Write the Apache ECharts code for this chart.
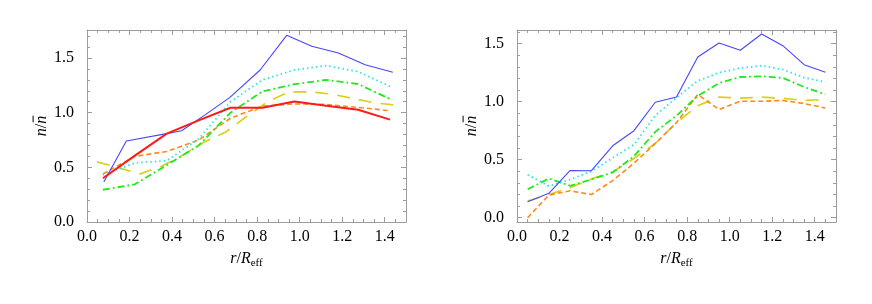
<!DOCTYPE html>
<html><head><meta charset="utf-8">
<script src="https://cdn.jsdelivr.net/npm/echarts@6/dist/echarts.min.js"></script>
<style>html,body{margin:0;padding:0;background:#fff}#c{width:872px;height:304px}</style>
</head><body><div id="c"></div>
<script>
// ---------- left panel data ----------
const leftBlueX   = [0.079,0.185,0.374,0.445,0.555,0.672,0.814,0.939,1.057,1.182,1.308,1.438];
const leftBlueY   = [0.366,0.741,0.808,0.835,0.980,1.140,1.390,1.707,1.607,1.546,1.439,1.369];
const leftGrid15X = [0.075,0.225,0.375,0.525,0.675,0.825,0.975,1.125,1.275,1.425];
const leftRedY    = [0.400,0.607,0.808,0.930,1.045,1.045,1.103,1.064,1.027,0.936];
const leftCyanY   = [0.430,0.540,0.560,0.760,1.100,1.300,1.390,1.430,1.375,1.240];
const leftGreenY  = [0.295,0.345,0.520,0.700,1.000,1.195,1.260,1.300,1.262,1.125];
const leftOrangeY = [0.440,0.600,0.645,0.750,0.950,1.060,1.080,1.075,1.048,1.018];
const leftYellowX = [0.047,0.15,0.25,0.35,0.45,0.55,0.65,0.75,0.85,0.95,1.05,1.15,1.25,1.35,1.455];
const leftYellowY = [0.550,0.495,0.440,0.510,0.610,0.730,0.820,0.965,1.100,1.190,1.190,1.170,1.130,1.090,1.068];

// ---------- right panel data ----------
const rightX       = [0.05,0.15,0.25,0.35,0.45,0.55,0.65,0.75,0.85,0.95,1.05,1.15,1.25,1.35,1.45];
const rightBlueY   = [0.137,0.210,0.407,0.405,0.620,0.750,0.995,1.040,1.385,1.506,1.443,1.583,1.483,1.319,1.253];
const rightCyanY   = [0.370,0.272,0.330,0.400,0.516,0.630,0.880,1.035,1.180,1.250,1.290,1.310,1.278,1.207,1.170];
const rightGreenY  = [0.245,0.338,0.275,0.330,0.390,0.530,0.740,0.880,1.050,1.160,1.213,1.219,1.205,1.127,1.062];
const rightOrangeY = [0.000,0.195,0.232,0.200,0.320,0.470,0.640,0.820,1.062,0.933,1.004,1.004,1.010,0.984,0.946];
const rightYellowY = [0.143,0.200,0.258,0.335,0.395,0.510,0.640,0.820,0.965,1.040,1.030,1.040,1.030,1.010,1.020];

// ---------- tick labels ----------
const xTickLabels = [0,0.2,0.4,0.6,0.8,1.0,1.2,1.4];
const yTickLabels = [0,0.5,1.0,1.5];

const xMinorTicks = [];
for (let i = 1; i <= 30; i++) { const v = +(i*0.05).toFixed(2); if (!xTickLabels.some(m => Math.abs(m - v) < 1e-6)) xMinorTicks.push(v); }
function yMinor(maxV) { const a = []; for (let i = 1; i*0.1 <= maxV + 1e-9; i++) { const v = +(i*0.1).toFixed(1); if (!yTickLabels.some(m => Math.abs(m - v) < 1e-6)) a.push(v); } return a; }

const FONT = 'Liberation Serif';
const FRAME = '#9c9c9c';
const panels = [
  {left: 87, yMin: 0, yMax: 1.756},
  {left: 517, yMin: -0.037, yMax: 1.618}
];

const grids = [], xAxes = [], yAxes = [], series = [];
const mainX = [], mainY = [];
panels.forEach((p, g) => {
  grids.push({left: p.left, top: 30, width: 319, height: 192, containLabel: false});
  const xb = {type: 'value', gridIndex: g, min: 0, max: 1.5, splitLine: {show: false}};
  mainX.push(xAxes.length);
  xAxes.push(Object.assign({}, xb, {position: 'bottom',
    axisLine: {show: true, onZero: false, lineStyle: {color: FRAME, width: 1}},
    axisTick: {show: true, inside: true, length: 5, customValues: xTickLabels, lineStyle: {color: FRAME}},
    axisLabel: {show: true, customValues: xTickLabels, formatter: v => v.toFixed(1), color: '#000', fontFamily: FONT, fontSize: 16, margin: 7},
    name: '{i|r}{n|/}{i|R}{s|eff}', nameLocation: 'middle', nameGap: 27,
    nameTextStyle: {color: '#000', rich: {
      i: {fontFamily: FONT, fontStyle: 'italic', fontSize: 16, color: '#000'},
      n: {fontFamily: FONT, fontSize: 16, color: '#000'},
      s: {fontFamily: FONT, fontSize: 11, color: '#000', padding: [9, 0, 0, 0]}
    }}
  }));
  xAxes.push(Object.assign({}, xb, {position: 'bottom', axisLine: {show: false, onZero: false},
    axisTick: {show: true, inside: true, length: 3, customValues: xMinorTicks, lineStyle: {color: FRAME}},
    axisLabel: {show: false}}));
  xAxes.push(Object.assign({}, xb, {position: 'top',
    axisLine: {show: true, onZero: false, lineStyle: {color: FRAME, width: 1}},
    axisTick: {show: true, inside: true, length: 5, customValues: xTickLabels, lineStyle: {color: FRAME}},
    axisLabel: {show: false}}));
  xAxes.push(Object.assign({}, xb, {position: 'top', axisLine: {show: false, onZero: false},
    axisTick: {show: true, inside: true, length: 3, customValues: xMinorTicks, lineStyle: {color: FRAME}},
    axisLabel: {show: false}}));

  const yb = {type: 'value', gridIndex: g, min: p.yMin, max: p.yMax, splitLine: {show: false}};
  const ym = yMinor(p.yMax);
  mainY.push(yAxes.length);
  yAxes.push(Object.assign({}, yb, {position: 'left',
    axisLine: {show: true, onZero: false, lineStyle: {color: FRAME, width: 1}},
    axisTick: {show: true, inside: true, length: 5, customValues: yTickLabels, lineStyle: {color: FRAME}},
    axisLabel: {show: true, customValues: yTickLabels, formatter: v => v.toFixed(1), color: '#000', fontFamily: FONT, fontSize: 16, margin: 13},
    name: '{sp|}{bar|}\n{i|n}{n|/}{i|n}', nameLocation: 'middle', nameGap: 33, nameRotate: 90,
    nameTextStyle: {color: '#000', align: 'center', rich: {
      i: {fontFamily: FONT, fontStyle: 'italic', fontSize: 16, color: '#000', lineHeight: 14},
      n: {fontFamily: FONT, fontSize: 16, color: '#000', lineHeight: 14},
      sp: {width: 14, height: 1, lineHeight: 4},
      bar: {width: 6.5, height: 1, lineHeight: 4, backgroundColor: '#000'}
    }}
  }));
  yAxes.push(Object.assign({}, yb, {position: 'left', axisLine: {show: false, onZero: false},
    axisTick: {show: true, inside: true, length: 3, customValues: ym, lineStyle: {color: FRAME}},
    axisLabel: {show: false}}));
  yAxes.push(Object.assign({}, yb, {position: 'right',
    axisLine: {show: true, onZero: false, lineStyle: {color: FRAME, width: 1}},
    axisTick: {show: true, inside: true, length: 5, customValues: yTickLabels, lineStyle: {color: FRAME}},
    axisLabel: {show: false}}));
  yAxes.push(Object.assign({}, yb, {position: 'right', axisLine: {show: false, onZero: false},
    axisTick: {show: true, inside: true, length: 3, customValues: ym, lineStyle: {color: FRAME}},
    axisLabel: {show: false}}));
});

const zip = (xs, ys) => xs.map((x, i) => [x, ys[i]]);
const STY = {
  blue:   {color: '#4646ff', width: 1.1, type: 'solid'},
  red:    {color: '#ff1a1a', width: 2, type: 'solid'},
  cyan:   {color: '#2fe3e3', width: 1.8, type: [1.5, 3], cap: 'butt'},
  green:  {color: '#1fea1f', width: 1.8, type: [7, 3, 1.8, 3]},
  orange: {color: '#ff8a1c', width: 1.6, type: [5, 3]},
  yellow: {color: '#d8d11c', width: 1.7, type: [13, 9]}
};
function addLine(g, data, key) {
  series.push({type: 'line', xAxisIndex: mainX[g], yAxisIndex: mainY[g], data: data,
    showSymbol: false, symbol: 'none', lineStyle: STY[key], itemStyle: {color: STY[key].color},
    animation: false, silent: true, clip: true});
}
addLine(0, zip(leftYellowX, leftYellowY), 'yellow');
addLine(0, zip(leftGrid15X, leftOrangeY), 'orange');
addLine(0, zip(leftGrid15X, leftGreenY), 'green');
addLine(0, zip(leftGrid15X, leftCyanY), 'cyan');
addLine(0, zip(leftBlueX, leftBlueY), 'blue');
addLine(0, zip(leftGrid15X, leftRedY), 'red');

addLine(1, zip(rightX, rightYellowY), 'yellow');
addLine(1, zip(rightX, rightOrangeY), 'orange');
addLine(1, zip(rightX, rightGreenY), 'green');
addLine(1, zip(rightX, rightCyanY), 'cyan');
addLine(1, zip(rightX, rightBlueY), 'blue');

const chart = echarts.init(document.getElementById('c'), null, {renderer: 'canvas'});
chart.setOption({animation: false, backgroundColor: '#fff', grid: grids, xAxis: xAxes, yAxis: yAxes, series: series});
</script></body></html>
